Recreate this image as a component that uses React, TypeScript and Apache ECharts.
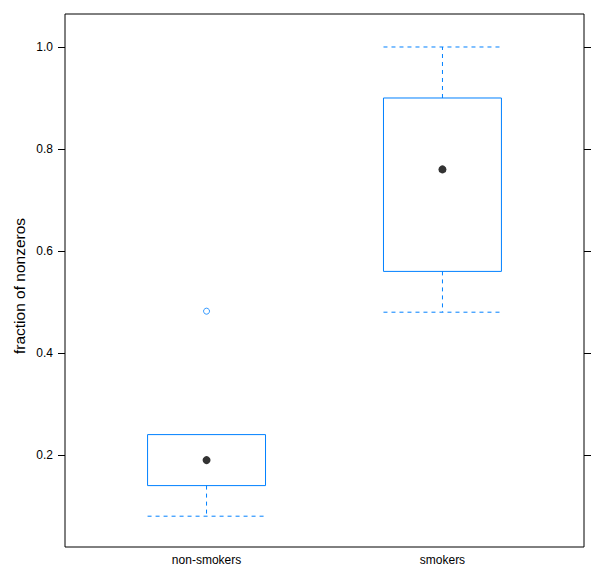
import React, { useEffect, useRef } from "react";
import * as echarts from "echarts";

const categories = ["non-smokers", "smokers"];
const lowerWhisker = [0.08, 0.48];
const q1 = [0.14, 0.56];
const medians = [0.19, 0.76];
const q3 = [0.24, 0.9];
const upperWhisker = [0.24, 1.0];
const outliers: [number, number][] = [[1, 0.482]];
const yTicks = [0.2, 0.4, 0.6, 0.8, 1.0];
const yTitle = "fraction of nonzeros";

const BLUE = "#0080ff";
const FONT = "Liberation Sans, Arial, Helvetica, sans-serif";

export default function App() {
  const ref = useRef<HTMLDivElement>(null);
  useEffect(() => {
    if (!ref.current) return;
    const chart = echarts.init(ref.current, undefined, { renderer: "svg" });
    const boxData = categories.map((_, i) => [
      i + 1,
      lowerWhisker[i],
      q1[i],
      medians[i],
      q3[i],
      upperWhisker[i],
    ]);
    const yMin = 0.0196;
    const yMax = 1.0647;
    chart.setOption({
      animation: false,
      textStyle: { fontFamily: FONT },
      grid: {
        left: 65,
        right: 16,
        top: 14,
        bottom: 31,
        show: true,
        borderColor: "#000",
        borderWidth: 1,
        backgroundColor: "transparent",
      },
      graphic: [
        {
          type: "text",
          x: 19,
          y: 286,
          rotation: Math.PI / 2,
          style: {
            text: yTitle,
            fill: "#000",
            fontSize: 15.5,
            fontFamily: FONT,
            align: "center",
            verticalAlign: "middle",
          },
        },
      ],
      xAxis: {
        type: "value",
        min: 0.4,
        max: 2.6,
        axisLine: { show: false },
        splitLine: { show: false },
        axisTick: { show: false },
        axisLabel: {
          customValues: [1, 2],
          formatter: (v: number) => categories[Math.round(v) - 1] ?? "",
          color: "#000",
          fontSize: 12,
          fontFamily: FONT,
          margin: 7,
        },
      },
      yAxis: [
        {
          type: "value",
          min: yMin,
          max: yMax,
          position: "left",
          axisLine: { show: false },
          splitLine: { show: false },
          axisTick: {
            show: true,
            customValues: yTicks,
            length: 7,
            lineStyle: { color: "#000", width: 1 },
          },
          axisLabel: {
            customValues: yTicks,
            formatter: (v: number) => v.toFixed(1),
            color: "#000",
            fontSize: 12,
            fontFamily: FONT,
            margin: 12,
          },
        },
        {
          type: "value",
          min: yMin,
          max: yMax,
          position: "right",
          axisLine: { show: false },
          splitLine: { show: false },
          axisTick: {
            show: true,
            customValues: yTicks,
            length: 7,
            lineStyle: { color: "#000", width: 1 },
          },
          axisLabel: { show: false },
        },
      ],
      series: [
        {
          type: "custom",
          data: boxData,
          renderItem: (params: any, api: any) => {
            const x = api.value(0);
            const lo = api.coord([x, api.value(1)]);
            const b1 = api.coord([x, api.value(2)]);
            const b3 = api.coord([x, api.value(4)]);
            const hi = api.coord([x, api.value(5)]);
            const halfW = api.size([0.5, 0])[0] / 2;
            const cx = lo[0];
            const dash = { stroke: BLUE, lineWidth: 1, lineDash: [4, 4], fill: null };
            const children: any[] = [
              {
                type: "rect",
                shape: { x: cx - halfW, y: b3[1], width: halfW * 2, height: b1[1] - b3[1] },
                style: { stroke: BLUE, lineWidth: 1, fill: "none" },
              },
            ];
            if (Math.abs(lo[1] - b1[1]) > 0.5) {
              children.push(
                { type: "line", shape: { x1: cx, y1: b1[1], x2: cx, y2: lo[1] }, style: dash },
                { type: "line", shape: { x1: cx - halfW, y1: lo[1], x2: cx + halfW, y2: lo[1] }, style: dash }
              );
            }
            if (Math.abs(hi[1] - b3[1]) > 0.5) {
              children.push(
                { type: "line", shape: { x1: cx, y1: b3[1], x2: cx, y2: hi[1] }, style: dash },
                { type: "line", shape: { x1: cx - halfW, y1: hi[1], x2: cx + halfW, y2: hi[1] }, style: dash }
              );
            }
            return { type: "group", children };
          },
          z: 2,
        },
        {
          type: "scatter",
          data: categories.map((_, i) => [i + 1, medians[i]]),
          symbol: "circle",
          symbolSize: 8,
          itemStyle: { color: "#000" },
          z: 3,
        },
        {
          type: "scatter",
          data: outliers,
          symbol: "circle",
          symbolSize: 6,
          itemStyle: { color: "#fff", borderColor: BLUE, borderWidth: 1 },
          z: 3,
        },
      ],
    });
    return () => chart.dispose();
  }, []);
  return (
    <div
      ref={ref}
      style={{ position: "fixed", left: 0, top: 0, width: 600, height: 578, background: "#fff" }}
    />
  );
}
